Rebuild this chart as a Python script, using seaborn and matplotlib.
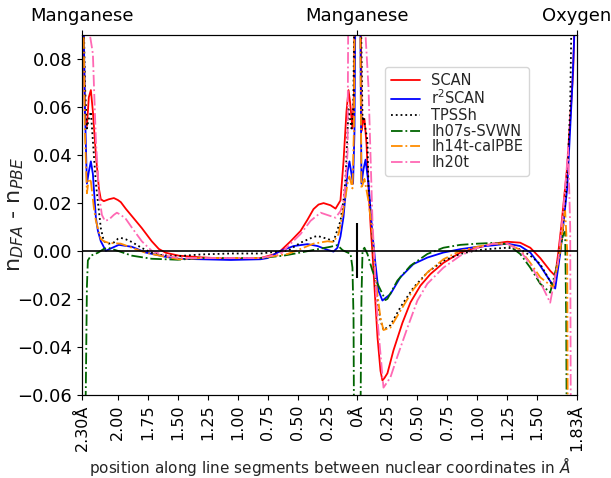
import matplotlib
matplotlib.use("Agg")
import matplotlib.pyplot as plt
import seaborn as sns

# positions along the path: left Mn at -2.30, middle Mn at 0, O at 1.83 (in Angstrom)
atom_pos = [-2.30, 0.0, 1.83]
atom_names = ['Manganese', 'Manganese', 'Oxygen']

tick_pos = [-2.30, -2.00, -1.75, -1.50, -1.25, -1.00, -0.75, -0.50, -0.25, 0.0,
            0.25, 0.50, 0.75, 1.00, 1.25, 1.50, 1.83]
tick_lab = ['2.30Å', '2.00', '1.75', '1.50', '1.25', '1.00', '0.75', '0.50', '0.25', '0Å',
            '0.25', '0.50', '0.75', '1.00', '1.25', '1.50', '1.83Å']

# SCAN
scan_x = [-2.292, -2.275, -2.258, -2.242, -2.225, -2.208, -2.183, -2.158, -2.142, -2.117,
          -2.075, -2.033, -2.0, -1.975, -1.933, -1.883, -1.80, -1.717, -1.658, -1.60,
          -1.492, -1.308, -1.058, -0.808, -0.70, -0.642, -0.558, -0.475, -0.417, -0.367,
          -0.325, -0.283, -0.225, -0.183, -0.142, -0.117, -0.092, -0.075, -0.062, -0.042,
          -0.03, -0.02, 0.025, 0.035, 0.05, 0.058, 0.075, 0.092, 0.11, 0.125,
          0.15, 0.167, 0.192, 0.208, 0.225, 0.25, 0.30, 0.375, 0.442, 0.525,
          0.608, 0.717, 0.858, 1.0, 1.133, 1.25, 1.358, 1.442, 1.525, 1.608,
          1.65, 1.675, 1.70, 1.75, 1.80, 1.825]
scan_y = [0.12, 0.056, 0.052, 0.064, 0.067, 0.058, 0.040, 0.026, 0.0215, 0.0207,
          0.0215, 0.022, 0.0212, 0.0203, 0.0175, 0.0145, 0.0095, 0.004, 0.0008, -0.0008,
          -0.002, -0.0027, -0.0033, -0.003, -0.0015, 0.0, 0.004, 0.0083, 0.013, 0.0174,
          0.0193, 0.0199, 0.019, 0.0176, 0.021, 0.037, 0.058, 0.067, 0.062, 0.051,
          0.065, 0.12, 0.12, 0.05, 0.055, 0.055, 0.045, 0.026, 0.010, -0.001,
          -0.022, -0.036, -0.050, -0.054, -0.053, -0.051, -0.0415, -0.030, -0.0215, -0.0145,
          -0.0097, -0.005, -0.0007, 0.0013, 0.003, 0.0038, 0.0034, 0.0013, -0.003, -0.0083,
          -0.0104, -0.001, 0.01, 0.035, 0.075, 0.12]

# r2SCAN
r2scan_x = [-2.292, -2.275, -2.258, -2.242, -2.225, -2.208, -2.20, -2.183, -2.167, -2.142,
            -2.10, -2.05, -1.992, -1.883, -1.767, -1.60, -1.492, -1.308, -1.058, -0.808,
            -0.75, -0.642, -0.533, -0.417, -0.333, -0.25, -0.20, -0.167, -0.142, -0.117,
            -0.083, -0.067, -0.05, -0.037, -0.025, -0.015, 0.02, 0.033, 0.05, 0.067,
            0.092, 0.125, 0.15, 0.175, 0.208, 0.275, 0.358, 0.467, 0.583, 0.717,
            0.858, 1.0, 1.133, 1.25, 1.358, 1.442, 1.525, 1.60, 1.65, 1.692,
            1.75, 1.792, 1.808, 1.825]
r2scan_y = [0.12, 0.06, 0.028, 0.033, 0.0373, 0.032, 0.026, 0.0138, 0.0085, 0.004,
            0.0, 0.0012, 0.0025, 0.0017, -0.0007, -0.0025, -0.0033, -0.0035, -0.0038, -0.0035,
            -0.003, 0.0, 0.002, 0.0028, 0.002, 0.0004, -0.0003, 0.0013, 0.006, 0.014,
            0.033, 0.0373, 0.032, 0.028, 0.05, 0.12, 0.12, 0.028, 0.034, 0.038,
            0.028, 0.007, -0.0055, -0.0166, -0.0207, -0.018, -0.011, -0.0055, -0.0028, -0.0007,
            0.0007, 0.0017, 0.0023, 0.003, 0.002, -0.0007, -0.0062, -0.012, -0.0157, -0.001,
            0.026, 0.068, 0.088, 0.12]

# TPSSh
tpssh_x = [-2.292, -2.275, -2.258, -2.242, -2.225, -2.20, -2.183, -2.167, -2.142, -2.117,
           -2.075, -2.033, -2.0, -1.975, -1.933, -1.883, -1.80, -1.717, -1.633, -1.492,
           -1.308, -1.058, -0.808, -0.70, -0.583, -0.475, -0.367, -0.333, -0.25, -0.20,
           -0.142, -0.117, -0.10, -0.075, -0.05, -0.035, -0.022, 0.022, 0.042, 0.05,
           0.083, 0.092, 0.125, 0.15, 0.192, 0.217, 0.275, 0.358, 0.467, 0.583,
           0.717, 0.858, 1.0, 1.133, 1.25, 1.358, 1.442, 1.525, 1.60, 1.633,
           1.708, 1.75, 1.775, 1.792]
tpssh_y = [0.12, 0.07, 0.051, 0.055, 0.058, 0.040, 0.028, 0.0207, 0.0095, 0.004,
           0.003, 0.0035, 0.005, 0.0054, 0.0048, 0.0037, 0.0012, -0.0008, -0.0018, -0.0022,
           -0.0015, -0.0011, -0.0011, -0.0005, 0.0, 0.0034, 0.0058, 0.0062, 0.005, 0.004,
           0.0125, 0.021, 0.030, 0.059, 0.051, 0.06, 0.12, 0.12, 0.055, 0.056,
           0.046, 0.026, 0.0054, -0.015, -0.029, -0.033, -0.031, -0.0235, -0.0153, -0.009,
           -0.0041, -0.0013, 0.0003, 0.0009, 0.0013, 0.0007, -0.002, -0.0055, -0.012, -0.015,
           0.005, 0.03, 0.06, 0.12]

# lh07s-SVWN
svwn_x = [-2.30, -2.283, -2.267, -2.258, -2.25, -2.225, -2.167, -2.117, -2.083, -2.0,
          -1.883, -1.717, -1.50, -1.308, -1.058, -0.808, -0.617, -0.475, -0.333, -0.225,
          -0.167, -0.125, -0.083, -0.058, -0.042, -0.033, -0.025, 0.017, 0.033, 0.042,
          0.058, 0.083, 0.125, 0.167, 0.233, 0.25, 0.333, 0.442, 0.583, 0.717,
          0.858, 1.0, 1.133, 1.25, 1.358, 1.442, 1.525, 1.608, 1.675, 1.717,
          1.733, 1.742, 1.75]
svwn_y = [-0.12, -0.10, -0.057, -0.015, -0.004, -0.002, -0.0008, 0.0008, 0.0013, 0.0,
          -0.002, -0.0033, -0.0037, -0.003, -0.003, -0.003, -0.002, -0.0007, 0.0007, 0.0017,
          0.0024, 0.0003, -0.0007, -0.0012, -0.007, -0.028, -0.12, -0.12, -0.02, 0.0,
          0.0013, -0.0013, -0.0083, -0.0137, -0.0205, -0.020, -0.0124, -0.0062, -0.0013, 0.0013,
          0.0025, 0.003, 0.0033, 0.0028, -0.0013, -0.007, -0.0137, -0.0174, -0.004, 0.007,
          0.008, -0.03, -0.12]

# lh14t-calPBE
calpbe_x = [-2.292, -2.275, -2.258, -2.242, -2.225, -2.20, -2.183, -2.167, -2.142, -2.117,
            -2.075, -1.975, -1.883, -1.767, -1.60, -1.492, -1.308, -1.058, -0.808, -0.583,
            -0.475, -0.367, -0.25, -0.20, -0.158, -0.125, -0.083, -0.067, -0.042, -0.03,
            -0.02, 0.02, 0.033, 0.058, 0.092, 0.125, 0.15, 0.192, 0.217, 0.275,
            0.358, 0.467, 0.583, 0.717, 0.858, 1.0, 1.133, 1.25, 1.358, 1.442,
            1.525, 1.633, 1.692, 1.725, 1.733, 1.75, 1.758]
calpbe_y = [0.12, 0.05, 0.024, 0.030, 0.029, 0.018, 0.0125, 0.0095, 0.005, 0.004,
            0.0033, 0.003, 0.0013, -0.0008, -0.0025, -0.0035, -0.003, -0.003, -0.003, -0.0013,
            0.0008, 0.003, 0.004, 0.0037, 0.007, 0.015, 0.028, 0.031, 0.026, 0.05,
            0.12, 0.12, 0.026, 0.030, 0.0207, 0.007, -0.012, -0.028, -0.033, -0.032,
            -0.025, -0.016, -0.009, -0.0035, 0.0, 0.0017, 0.003, 0.003, 0.0004, -0.005,
            -0.011, -0.0153, 0.0, 0.015, 0.0166, 0.0, -0.12]

# lh20t
lh20t_x = [-2.30, -2.258, -2.233, -2.217, -2.208, -2.20, -2.183, -2.167, -2.158, -2.133,
           -2.108, -2.075, -2.033, -2.008, -1.975, -1.933, -1.883, -1.80, -1.717, -1.60,
           -1.492, -1.308, -1.058, -0.808, -0.642, -0.558, -0.475, -0.392, -0.308, -0.225,
           -0.183, -0.142, -0.117, -0.10, -0.083, -0.075, 0.05, 0.067, 0.092, 0.125,
           0.167, 0.217, 0.275, 0.333, 0.417, 0.50, 0.583, 0.717, 0.858, 1.0,
           1.133, 1.25, 1.358, 1.442, 1.525, 1.608, 1.675, 1.717, 1.75, 1.758,
           1.775, 1.783]
lh20t_y = [0.12, 0.095, 0.09, 0.085, 0.082, 0.07, 0.046, 0.033, 0.0237, 0.015,
           0.0125, 0.013, 0.015, 0.0159, 0.015, 0.0133, 0.0097, 0.004, 0.0, -0.002,
           -0.003, -0.003, -0.003, -0.003, -0.0013, 0.003, 0.007, 0.0125, 0.0159, 0.0145,
           0.0138, 0.0166, 0.0207, 0.028, 0.041, 0.12, 0.12, 0.09, 0.068, 0.0125,
           -0.029, -0.057, -0.0527, -0.044, -0.032, -0.0207, -0.0137, -0.007, -0.002, 0.0012,
           0.003, 0.003, 0.0, -0.0055, -0.013, -0.0216, -0.004, 0.0166, 0.037, 0.043,
           0.01, -0.12]

series = [
    ('SCAN', scan_x, scan_y, 'red', '-'),
    ('r$^2$SCAN', r2scan_x, r2scan_y, 'blue', '-'),
    ('TPSSh', tpssh_x, tpssh_y, 'black', ':'),
    ('lh07s-SVWN', svwn_x, svwn_y, 'darkgreen', '-.'),
    ('lh14t-calPBE', calpbe_x, calpbe_y, 'darkorange', '-.'),
    ('lh20t', lh20t_x, lh20t_y, 'hotpink', '-.'),
]

sns.set_style("ticks")
plt.rcParams['font.family'] = ['DejaVu Sans']

fig, ax = plt.subplots(figsize=(6.11, 4.78), dpi=100)
fig.subplots_adjust(left=0.134, right=0.944, top=0.927, bottom=0.174)

for name, xs, ys, col, ls in series:
    sns.lineplot(x=xs, y=ys, ax=ax, color=col, linestyle=ls, linewidth=1.3, label=name)

ax.axhline(0, color='black', linewidth=1.2)
# marker at the central manganese
ax.vlines([atom_pos[1]], -0.0115, 0.0115, color='black', linewidth=1.5)

ax.set_xlim(atom_pos[0], atom_pos[-1])
ax.set_ylim(-0.06, 0.09)
ax.set_yticks([-0.06, -0.04, -0.02, 0.0, 0.02, 0.04, 0.06, 0.08])
ax.set_xticks(tick_pos)
ax.set_xticklabels(tick_lab, rotation=90)
ax.tick_params(axis='y', labelsize=13, colors='black')
ax.tick_params(axis='x', labelsize=11.5, colors='black')
ax.set_xlabel(r'position along line segments between nuclear coordinates in $\AA$',
              fontsize=11, labelpad=3)
ax.set_ylabel(r'n$_{DFA}$ - n$_{PBE}$', fontsize=16)
ax.yaxis.set_label_coords(-0.112, 0.5)
for sp in ax.spines.values():
    sp.set_color('black')

top = ax.twiny()
top.set_xlim(ax.get_xlim())
top.set_xticks(atom_pos)
top.set_xticklabels(atom_names, fontsize=13)
top.tick_params(colors='black')
for sp in top.spines.values():
    sp.set_color('black')

ax.legend(loc='upper left', bbox_to_anchor=(0.612, 0.911), borderaxespad=0,
          fontsize=10.5, labelspacing=0.05, frameon=True)

fig.savefig('out.png', dpi=100)
